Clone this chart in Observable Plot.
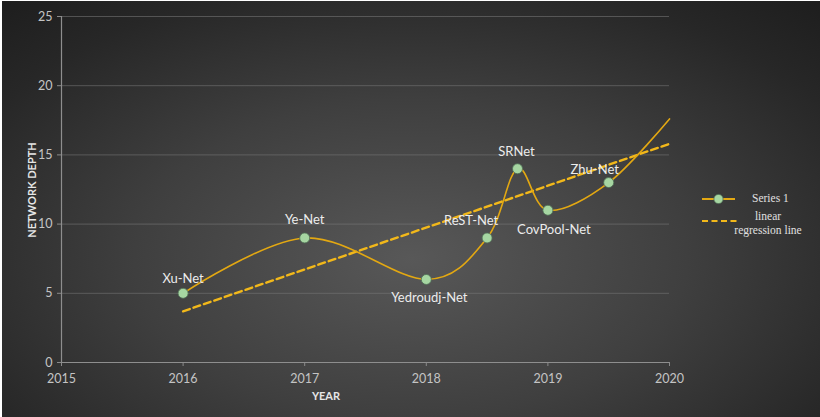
<!DOCTYPE html>
<html>
<head>
<meta charset="utf-8">
<script src="https://cdn.jsdelivr.net/npm/d3@7"></script>
<script src="https://cdn.jsdelivr.net/npm/@observablehq/plot@0.6"></script>
<style>
  html, body { margin: 0; padding: 0; background: #ffffff; }
  #wrap {
    position: relative; width: 820px; height: 417px; overflow: hidden; background: #ffffff;
  }
  #chart {
    position: absolute; left: 2px; top: 1px; width: 818px; height: 416px;
    background: radial-gradient(ellipse 75% 85% at 50% 62%, #585858 0%, #3f3f3f 45%, #272727 80%, #1d1d1d 100%);
  }
  #chart svg.plot { position: absolute; left: 0; top: 0; }
  .title { position: absolute; color: #e6e6e6; font-family: Lato, "Open Sans", sans-serif; font-weight: bold; font-size: 11px; white-space: nowrap; }
  #legend { position: absolute; left: 0; top: 0; }
</style>
</head>
<body>
<div id="wrap"><div id="chart"></div></div>
<script>
// ---- data ----
const networks = ["Xu-Net", "Ye-Net", "Yedroudj-Net", "ReST-Net", "SRNet", "CovPool-Net", "Zhu-Net"];
const years    = [2016, 2017, 2018, 2018.5, 2018.75, 2019, 2019.5];
const depths   = [5, 9, 6, 9, 14, 11, 13];
// the smoothed series continues to the right edge of the chart (no marker there)
const curveEndYear = 2020;
const curveEndDepth = 17.6;
// linear regression line endpoints (as drawn)
const regressionYears  = [2016, 2020];
const regressionDepths = [3.7, 15.8];
const yTicks = [0, 5, 10, 15, 20, 25];
const xTicks = [2015, 2016, 2017, 2018, 2019, 2020];

// ---- tables ----
const points = networks.map((n, i) => ({name: n, year: years[i], depth: depths[i]}));
const curvePts = [...points, {name: "", year: curveEndYear, depth: curveEndDepth}];
const regression = regressionYears.map((y, i) => ({year: y, depth: regressionDepths[i]}));

// label placement (styling, keyed by name)
const labelOffset = {
  "Xu-Net": [0, -14], "Ye-Net": [0, -18], "Yedroudj-Net": [3, 18], "ReST-Net": [-16, -17],
  "SRNet": [-1, -17], "CovPool-Net": [6, 20], "Zhu-Net": [-14, -13]
};

const LINE = "#e3a812";
const DASH = "#f2b81a";
const MARK = "#a6d6a2";
const font = "Lato, 'Open Sans', sans-serif";

const labelMarks = networks.map(n => Plot.text(points.filter(p => p.name === n), {
  x: "year", y: "depth", text: "name",
  dx: labelOffset[n][0], dy: labelOffset[n][1],
  fill: "#ececec", fontSize: 13, fontFamily: font
}));

const plot = Plot.plot({
  width: 818, height: 416,
  marginLeft: 59, marginRight: 151, marginTop: 15, marginBottom: 55,
  style: {background: "transparent", color: "#c8c8c8", fontFamily: font, overflow: "visible"},
  x: {domain: [2015, 2020], label: null},
  y: {domain: [0, 25], label: null},
  marks: [
    Plot.gridY(yTicks.filter(t => t > 0), {stroke: "#7a7a7a", strokeOpacity: 0.55, strokeWidth: 1}),
    Plot.axisY({ticks: yTicks, tickSize: 4, tickPadding: 5, fontSize: 12.5, fill: "#c4c4c4", stroke: "#8a8a8a", tickFormat: d => String(d), label: null}),
    Plot.axisX({ticks: xTicks, tickSize: 4, tickPadding: 8, fontSize: 12.5, fill: "#c4c4c4", stroke: "#8a8a8a", tickFormat: d => String(d), label: null}),
    Plot.ruleY([0], {stroke: "#8e8e8e", strokeWidth: 1.2}),
    Plot.ruleX([2015], {stroke: "#8e8e8e", strokeWidth: 1.2}),
    Plot.line(regression, {x: "year", y: "depth", stroke: DASH, strokeWidth: 2.4, strokeDasharray: "7,4"}),
    Plot.line(curvePts, {x: "year", y: "depth", stroke: LINE, strokeWidth: 1.6, curve: "cardinal"}),
    Plot.dot(points, {x: "year", y: "depth", r: 5, fill: MARK, stroke: "#4f6e55", strokeWidth: 0.8}),
    ...labelMarks
  ]
});
const chart = document.getElementById("chart");
chart.appendChild(plot);

// axis titles
const yt = document.createElement("div");
yt.className = "title";
yt.textContent = "NETWORK DEPTH";
yt.style.left = "29px"; yt.style.top = "189px";
yt.style.transform = "translate(-50%, -50%) rotate(-90deg)";
chart.appendChild(yt);
const xt = document.createElement("div");
xt.className = "title";
xt.textContent = "YEAR";
xt.style.left = "324px"; xt.style.top = "394px";
xt.style.transform = "translate(-50%, -50%)";
chart.appendChild(xt);

// legend
const ns = "http://www.w3.org/2000/svg";
const lg = document.createElementNS(ns, "svg");
lg.setAttribute("id", "legend");
lg.setAttribute("width", 818); lg.setAttribute("height", 416);
lg.innerHTML = `
  <line x1="700" x2="733" y1="198" y2="198" stroke="${LINE}" stroke-width="1.8"/>
  <circle cx="716.5" cy="198" r="4.6" fill="${MARK}" stroke="#4f6e55" stroke-width="0.8"/>
  <text x="750" y="201" fill="#e0e0e0" font-family="'Liberation Serif', 'DejaVu Serif', serif" font-size="11.5">Series 1</text>
  <line x1="700" x2="735" y1="220" y2="220" stroke="${DASH}" stroke-width="2.2" stroke-dasharray="6,3.5"/>
  <text x="766" y="219" text-anchor="middle" fill="#e0e0e0" font-family="'Liberation Serif', 'DejaVu Serif', serif" font-size="11.5">linear</text>
  <text x="766" y="233" text-anchor="middle" fill="#e0e0e0" font-family="'Liberation Serif', 'DejaVu Serif', serif" font-size="11.5">regression line</text>
`;
chart.appendChild(lg);
</script>
</body>
</html>
